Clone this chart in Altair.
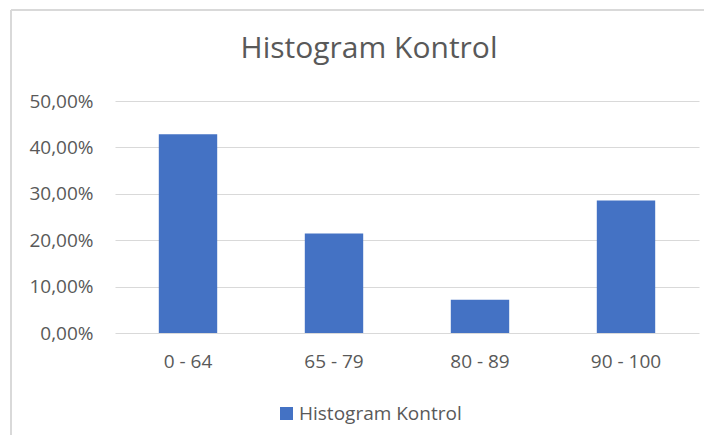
import altair as alt
import pandas as pd

categories = ["0 - 64", "65 - 79", "80 - 89", "90 - 100"]
values = [0.4286, 0.2143, 0.0714, 0.2857]
series = "Histogram Kontrol"

df = pd.DataFrame({"kelas": categories, "nilai": values, "seri": [series] * len(categories)})

FONT = "Open Sans"
GRAY = "#595959"

bars = alt.Chart(df).mark_bar(color="#4472C4").encode(
    x=alt.X("kelas:N", sort=categories, title=None,
            scale=alt.Scale(paddingInner=0.6, paddingOuter=0.3),
            axis=alt.Axis(labelAngle=0, ticks=False, domain=False, labelPadding=19,
                          labelFontSize=19, labelColor=GRAY, labelFont=FONT)),
    y=alt.Y("nilai:Q", title=None,
            scale=alt.Scale(domain=[0, 0.5]),
            axis=alt.Axis(values=[0, 0.1, 0.2, 0.3, 0.4, 0.5], ticks=False, domain=False,
                          labelExpr="replace(format(datum.value, '.2%'), '.', ',')",
                          labelPadding=22, labelFontSize=19, labelColor=GRAY, labelFont=FONT,
                          gridColor="#d9d9d9", gridWidth=1)),
    fill=alt.Fill("seri:N", scale=alt.Scale(range=["#4472C4"]),
                  legend=alt.Legend(title=None, orient="none", legendX=162, legendY=303,
                                    symbolType="square", symbolSize=169, symbolStrokeWidth=0,
                                    labelFontSize=19, labelColor=GRAY, labelFont=FONT,
                                    labelOffset=3, labelLimit=400)),
)

frame_top = alt.Chart(df).mark_rule(color="#d9d9d9", strokeWidth=1.5).encode(
    x=alt.value(-104), x2=alt.value(600), y=alt.value(-91)
)
frame_left = alt.Chart(df).mark_rule(color="#d9d9d9", strokeWidth=1.5).encode(
    x=alt.value(-104), y=alt.value(-91), y2=alt.value(400)
)

chart = alt.layer(frame_top, frame_left, bars).properties(
    width=584, height=232,
    autosize=alt.AutoSizeParams(type="none"),
    padding={"left": 107, "top": 93, "right": 5, "bottom": 102},
    title=alt.TitleParams(series, fontSize=30, font=FONT, color=GRAY, fontWeight="normal",
                          anchor="middle", dx=-38, offset=0, dy=55),
).configure_view(stroke=None)

chart.save("out.html", embed_options={"renderer": "svg", "actions": False})
